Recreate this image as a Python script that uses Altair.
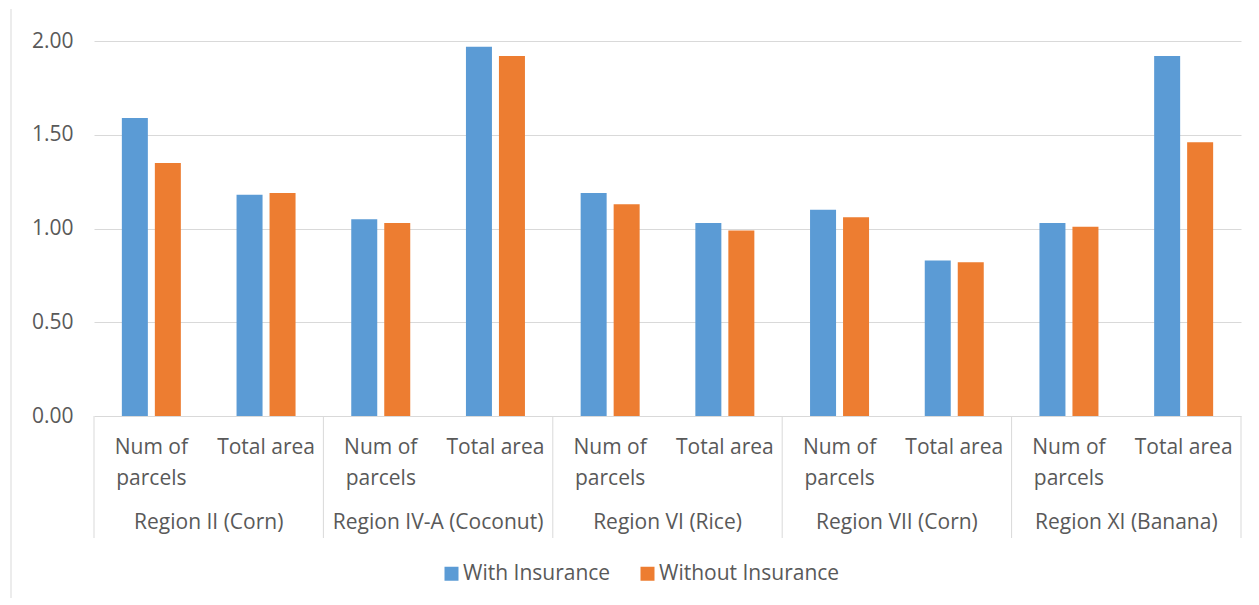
import altair as alt
import pandas as pd

regions = ["Region II (Corn)", "Region IV-A (Coconut)", "Region VI (Rice)",
           "Region VII (Corn)", "Region XI (Banana)"]
measures = ["Num of\nparcels", "Total area"]
series = ["With Insurance", "Without Insurance"]
with_ins = [1.59, 1.18, 1.05, 1.97, 1.19, 1.03, 1.10, 0.83, 1.03, 1.92]
without_ins = [1.35, 1.19, 1.03, 1.92, 1.13, 0.99, 1.06, 0.82, 1.01, 1.46]

keys = [f"{r}|{m}" for r in regions for m in measures]

rows = []
for i, k in enumerate(keys):
    rows.append({"key": k, "series": series[0], "value": with_ins[i]})
    rows.append({"key": k, "series": series[1], "value": without_ins[i]})
bars_df = pd.DataFrame(rows)

sub_df = pd.DataFrame({"key": keys, "label": [k.split("|")[1] for k in keys]})
reg_df = pd.DataFrame({"key": [f"{r}|{measures[1]}" for r in regions], "label": regions})
sep_df = pd.DataFrame({"key": [f"{r}|{measures[0]}" for r in regions]})
end_df = pd.DataFrame({"key": [keys[-1]]})

FONT = "Open Sans"
FS = 21
TXT = "#595959"
GRID = "#d9d9d9"

xscale = alt.Scale(domain=keys, paddingInner=0, paddingOuter=0)

bars = alt.Chart(bars_df).mark_bar().encode(
    x=alt.X("key:N", scale=xscale, sort=keys, axis=None),
    xOffset=alt.XOffset("series:N", scale=alt.Scale(domain=series, paddingInner=0.212, paddingOuter=0.844)),
    y=alt.Y("value:Q", scale=alt.Scale(domain=[0, 2], nice=False),
            axis=alt.Axis(values=[0, 0.5, 1, 1.5, 2], format=".2f", title=None,
                          domain=False, ticks=False, labelPadding=21,
                          labelFontSize=FS, labelColor=TXT, labelFont=FONT,
                          gridColor=GRID, gridWidth=1)),
    color=alt.Color("series:N", scale=alt.Scale(domain=series, range=["#5B9BD5", "#ED7D31"]),
                    legend=alt.Legend(title=None, orient="none", legendX=347, legendY=522,
                                      direction="horizontal", symbolType="square",
                                      symbolSize=196, symbolStrokeWidth=0, labelFontSize=FS,
                                      labelColor=TXT, labelFont=FONT, labelOffset=1,
                                      labelLimit=400, columnPadding=26, padding=0)),
)

sub = alt.Chart(sub_df).mark_text(font=FONT, fontSize=FS, color=TXT, baseline="alphabetic",
                                  lineBreak="\n", lineHeight=31).encode(
    x=alt.X("key:N", scale=xscale, sort=keys),
    y=alt.value(413),
    text="label:N",
)

reg = alt.Chart(reg_df).mark_text(font=FONT, fontSize=FS, color=TXT, baseline="alphabetic").encode(
    x=alt.X("key:N", scale=xscale, sort=keys, bandPosition=0),
    y=alt.value(488),
    text="label:N",
)

sep = alt.Chart(sep_df).mark_rule(color=GRID, strokeWidth=1).encode(
    x=alt.X("key:N", scale=xscale, sort=keys, bandPosition=0),
    y=alt.value(375), y2=alt.value(497),
)
sep_end = alt.Chart(end_df).mark_rule(color=GRID, strokeWidth=1).encode(
    x=alt.X("key:N", scale=xscale, sort=keys, bandPosition=1),
    y=alt.value(375), y2=alt.value(497),
)

border = alt.Chart(end_df).mark_rule(color=GRID, strokeWidth=1).encode(
    x=alt.value(-83), y=alt.value(-32), y2=alt.value(557),
)

chart = alt.layer(bars, sep, sep_end, sub, reg, border).properties(
    width=1147, height=375,
    padding={"left": 2, "top": 0, "right": 5, "bottom": 0},
).configure_view(stroke=None).configure_axisX(domainColor=GRID)

chart.save("out.html", embed_options={"renderer": "svg", "actions": False})
